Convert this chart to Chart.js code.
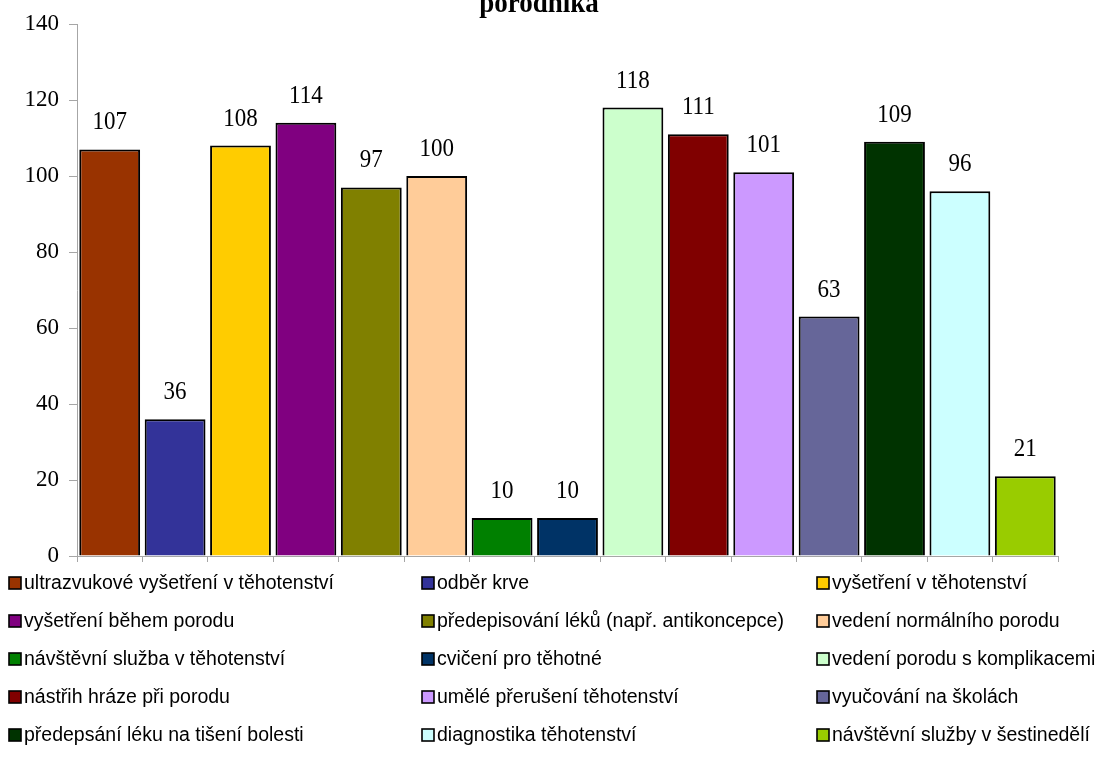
<!DOCTYPE html>
<html lang="cs">
<head>
<meta charset="utf-8">
<title>porodníka</title>
<script src="https://cdn.jsdelivr.net/npm/chart.js@4.4.1/dist/chart.umd.min.js"></script>
<style>
  html, body { margin: 0; padding: 0; background: #ffffff; }
  #wrap { width: 1109px; height: 766px; position: relative; }
</style>
</head>
<body>
<div id="wrap"><canvas id="chart" width="1109" height="766"></canvas></div>
<script>
// Kategorie činností (pořadí sloupců i legendy)
const categories = [
  'ultrazvukové vyšetření v těhotenství',
  'odběr krve',
  'vyšetření v těhotenství',
  'vyšetření během porodu',
  'předepisování léků (např. antikoncepce)',
  'vedení normálního porodu',
  'návštěvní služba v těhotenství',
  'cvičení pro těhotné',
  'vedení porodu s komplikacemi',
  'nástřih hráze při porodu',
  'umělé přerušení těhotenství',
  'vyučování na školách',
  'předepsání léku na tišení bolesti',
  'diagnostika těhotenství',
  'návštěvní služby v šestinedělí'
];

// Počty odpovědí
const values = [107, 36, 108, 114, 97, 100, 10, 10, 118, 111, 101, 63, 109, 96, 21];

// Barvy sloupců
const barColors = [
  '#993300', '#333399', '#FFCC00', '#800080', '#808000',
  '#FFCC99', '#008000', '#003366', '#CCFFCC', '#800000',
  '#CC99FF', '#666699', '#003300', '#CCFFFF', '#99CC00'
];

// Osa Y
const yMin = 0;
const yMax = 140;
const yStep = 20;

const titleText = 'porodníka';

const SERIF = '"Liberation Serif", "Times New Roman", serif';
const SANS = '"Liberation Sans", Arial, sans-serif';

// Titulek (horní řádek je mimo plátno)
const titlePlugin = {
  id: 'topTitle',
  afterDraw(chart) {
    const ctx = chart.ctx;
    ctx.save();
    ctx.font = 'bold 27px ' + SERIF;
    ctx.fillStyle = '#000';
    ctx.textAlign = 'center';
    ctx.textBaseline = 'alphabetic';
    ctx.translate(539, 12);
    ctx.scale(1, 1.1);
    ctx.fillText(titleText, 0, 0);
    ctx.restore();
  }
};

// Hodnoty nad sloupci
const valueLabels = {
  id: 'valueLabels',
  afterDatasetsDraw(chart) {
    const ctx = chart.ctx;
    const meta = chart.getDatasetMeta(0);
    ctx.font = '23px ' + SERIF;
    ctx.fillStyle = '#000';
    ctx.textAlign = 'center';
    ctx.textBaseline = 'alphabetic';
    meta.data.forEach((bar, i) => {
      ctx.save();
      ctx.translate(bar.x, bar.y - 20);
      ctx.scale(1, 1.12);
      ctx.fillText(String(chart.data.datasets[0].data[i]), 0, 0);
      ctx.restore();
    });
  }
};

// Legenda ve třech sloupcích
const gridLegend = {
  id: 'gridLegend',
  afterDraw(chart) {
    const ctx = chart.ctx;
    const colX = [9, 422, 817];
    const firstRowY = 583;
    const rowGap = 38;
    const box = 12;
    ctx.save();
    ctx.font = '19.5px ' + SANS;
    ctx.textBaseline = 'middle';
    ctx.textAlign = 'left';
    chart.data.labels.forEach((label, i) => {
      const col = i % 3;
      const row = Math.floor(i / 3);
      const x = colX[col];
      const y = firstRowY + row * rowGap;
      ctx.fillStyle = chart.data.datasets[0].backgroundColor[i];
      ctx.fillRect(x, y - box / 2, box, box);
      ctx.lineWidth = 1.6;
      ctx.strokeStyle = '#000';
      ctx.strokeRect(x, y - box / 2, box, box);
      ctx.fillStyle = '#000';
      ctx.fillText(label, x + 15, y + 1);
    });
    ctx.restore();
  }
};

new Chart(document.getElementById('chart'), {
  type: 'bar',
  data: {
    labels: categories,
    datasets: [{
      data: values,
      backgroundColor: barColors,
      borderColor: '#000000',
      borderWidth: 2,
      borderSkipped: 'bottom',
      barPercentage: 0.93,
      categoryPercentage: 1.0
    }]
  },
  options: {
    responsive: false,
    animation: false,
    devicePixelRatio: 1,
    layout: { padding: { left: 0, right: 51, top: 24, bottom: 0 } },
    plugins: {
      legend: { display: false },
      title: { display: false },
      tooltip: { enabled: false }
    },
    scales: {
      x: {
        offset: true,
        grid: {
          display: true,
          offset: true,
          drawOnChartArea: false,
          drawTicks: true,
          tickLength: 6,
          color: '#a6a6a6',
          lineWidth: 1
        },
        border: { display: true, color: '#a6a6a6', width: 1 },
        ticks: { display: false },
        afterFit(scale) { scale.height = 210; }
      },
      y: {
        min: yMin,
        max: yMax,
        grid: {
          display: true,
          drawOnChartArea: false,
          drawTicks: true,
          tickLength: 8,
          color: '#a6a6a6',
          lineWidth: 1
        },
        border: { display: true, color: '#a6a6a6', width: 1 },
        ticks: {
          stepSize: yStep,
          color: '#000',
          padding: 10,
          font: { family: SERIF, size: 23 }
        },
        afterFit(scale) { scale.width = 77; }
      }
    }
  },
  plugins: [titlePlugin, valueLabels, gridLegend]
});
</script>
</body>
</html>
